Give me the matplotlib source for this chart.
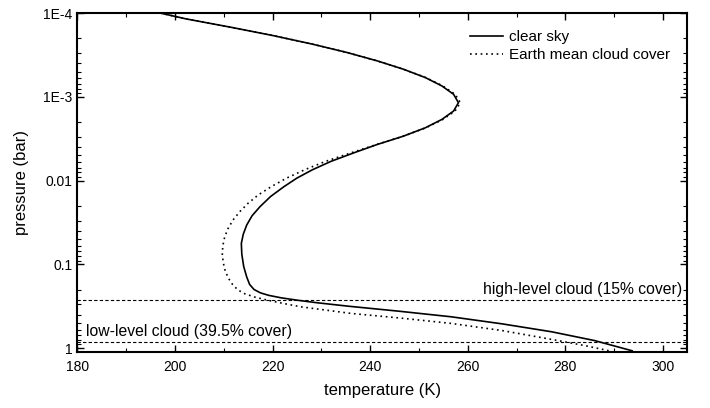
import numpy as np
import matplotlib
matplotlib.use("Agg")
import matplotlib.pyplot as plt
from matplotlib.ticker import FixedLocator, LogLocator, NullFormatter, MultipleLocator

plt.rcParams['font.family'] = ['Liberation Sans', 'DejaVu Sans']

# clear sky profile: temperature (K) and log10 pressure (bar)
clear_T = [197.0, 202.3, 211.5, 220.2, 228.1, 235.2, 241.4, 246.8, 251.3, 254.7,
           257.1, 258.1, 257.1, 254.7, 251.3, 246.8, 241.4, 236.6, 232.0, 228.2,
           225.0, 222.3, 219.6, 217.4, 215.8, 214.7, 214.0, 213.6, 213.7, 214.1,
           214.7, 215.3, 216.2, 217.5, 219.2, 221.8, 225.3, 229.2, 235.6, 246.0,
           256.6, 267.0, 277.2, 286.0, 293.7]
clear_logp = [-4.00, -3.93, -3.83, -3.73, -3.63, -3.53, -3.43, -3.33, -3.23, -3.13,
              -3.03, -2.93, -2.83, -2.73, -2.63, -2.53, -2.43, -2.33, -2.23, -2.13,
              -2.03, -1.926, -1.81, -1.687, -1.58, -1.469, -1.36, -1.25, -1.12, -0.971,
              -0.85, -0.76, -0.70, -0.66, -0.63, -0.60, -0.57, -0.541, -0.50, -0.44,
              -0.374, -0.29, -0.195, -0.09, 0.032]

# Earth mean cloud cover profile
cloud_T = [197.0, 202.3, 211.5, 220.2, 228.1, 235.2, 241.4, 246.8, 251.4, 254.9,
           257.4, 258.5, 257.4, 254.9, 251.4, 246.8, 241.3, 236.0, 230.9, 226.6,
           222.9, 219.8, 217.1, 215.0, 213.3, 211.9, 210.9, 210.2, 209.8, 209.7,
           209.9, 210.3, 211.0, 211.8, 212.8, 214.1, 216.3, 218.9, 222.5, 225.8,
           236.1, 246.0, 256.6, 267.0, 277.2, 284.0, 289.0]
cloud_logp = [-4.00, -3.93, -3.83, -3.73, -3.63, -3.53, -3.43, -3.33, -3.23, -3.13,
              -3.03, -2.93, -2.83, -2.73, -2.63, -2.53, -2.43, -2.33, -2.23, -2.13,
              -2.03, -1.93, -1.83, -1.73, -1.63, -1.53, -1.43, -1.33, -1.22, -1.12,
              -1.02, -0.92, -0.83, -0.76, -0.70, -0.653, -0.61, -0.573, -0.53, -0.493,
              -0.414, -0.36, -0.295, -0.21, -0.104, -0.03, 0.032]

cloud_levels = [0.267, 0.835]
cloud_labels = ["high-level cloud (15% cover)", "low-level cloud (39.5% cover)"]

yticks = [1e-4, 1e-3, 1e-2, 1e-1, 1]
ytick_labels = ["1E-4", "1E-3", "0.01", "0.1", "1"]

clear_p = np.power(10.0, clear_logp)
cloud_p = np.power(10.0, cloud_logp)

fig = plt.figure(figsize=(7.1, 4.08), dpi=100)
ax = fig.add_axes([0.109, 0.137, 0.859, 0.831])

ax.plot(clear_T, clear_p, color='black', lw=1.2, label='clear sky')
ax.plot(cloud_T, cloud_p, color='black', lw=1.2, ls=(0, (1, 2.2)),
        label='Earth mean cloud cover')

for lv in cloud_levels:
    ax.axhline(lv, color='black', lw=0.8, ls=(0, (3, 2)))

ax.set_yscale('log')
ax.set_xlim(180, 305)
ax.set_ylim(1.116, 1e-4)

ax.yaxis.set_major_locator(FixedLocator(yticks))
ax.set_yticklabels(ytick_labels)
ax.yaxis.set_minor_locator(LogLocator(base=10, subs=np.arange(2, 10)))
ax.yaxis.set_minor_formatter(NullFormatter())
ax.xaxis.set_major_locator(MultipleLocator(20))
ax.xaxis.set_minor_locator(MultipleLocator(10))

ax.tick_params(which='both', direction='in', top=True, right=True, labelsize=10)
ax.tick_params(which='major', length=5, width=1.0)
ax.tick_params(which='minor', length=3, width=0.8)
ax.tick_params(axis='x', pad=6)
for s in ax.spines.values():
    s.set_linewidth(1.5)

ax.set_xlabel('temperature (K)', fontsize=12, labelpad=6)
ax.set_ylabel('pressure (bar)', fontsize=12, labelpad=10)

ax.text(304.0, cloud_levels[0] * 0.93, cloud_labels[0], ha='right', va='bottom', fontsize=11.3)
ax.text(181.8, cloud_levels[1] * 0.93, cloud_labels[1], ha='left', va='bottom', fontsize=11.3)

ax.legend(loc='upper right', frameon=False, fontsize=11, handlelength=2.2,
          handletextpad=0.4, borderaxespad=0.7, labelspacing=0.3,
          bbox_to_anchor=(1.0, 1.0))

fig.savefig('out.png', dpi=100)
